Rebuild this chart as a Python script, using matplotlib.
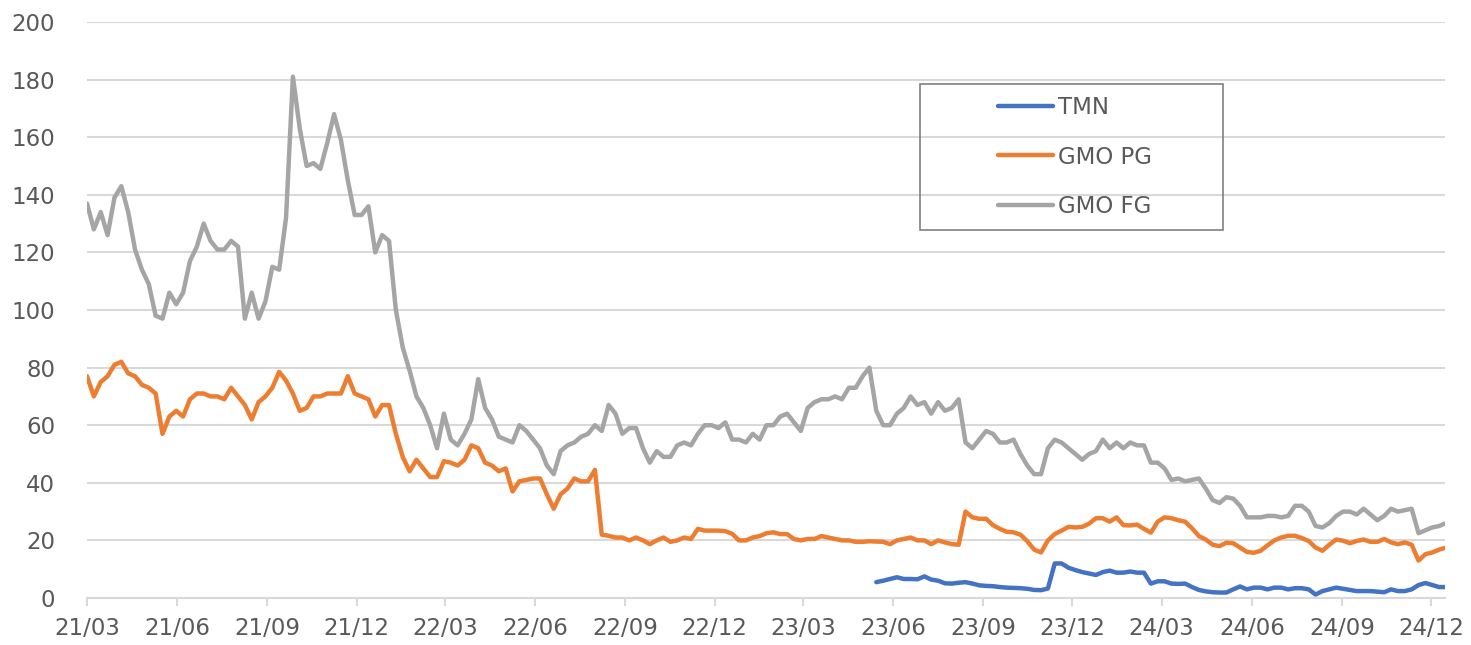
import pandas as pd
import matplotlib.pyplot as plt
import matplotlib.dates as mdates
from matplotlib.patches import Rectangle

# weekly readings, first point 2021-03-01
gmo_fg = [
    137, 128, 134, 126, 139, 143, 134, 121, 114, 109,
    98, 97, 106, 102, 106, 117, 122, 130, 124, 121,
    121, 124, 122, 97, 106, 97, 103, 115, 114, 132,
    181, 163, 150, 151, 149, 158, 168, 159, 145, 133,
    133, 136, 120, 126, 124, 100, 87, 79, 70, 66,
    60, 52, 64, 55, 53, 57, 62, 76, 66, 62,
    56, 55, 54, 60, 58, 55, 52, 46, 43, 51,
    53, 54, 56, 57, 60, 58, 67, 64, 57, 59,
    59, 52, 47, 51, 49, 49, 53, 54, 53, 57,
    60, 60, 59, 61, 55, 55, 54, 57, 55, 60,
    60, 63, 64, 61, 58, 66, 68, 69, 69, 70,
    69, 73, 73, 77, 80, 65, 60, 60, 64, 66,
    70, 67, 68, 64, 68, 65, 66, 69, 54, 52,
    55, 58, 57, 54, 54, 55, 50, 46, 43, 43,
    52, 55, 54, 52, 50, 48, 50, 51, 55, 52,
    54, 52, 54, 53, 53, 47, 47, 45, 41, 41.5,
    40.5, 41, 41.5, 38, 34, 33, 35, 34.5, 32, 28,
    28, 28, 28.5, 28.5, 28, 28.5, 32, 32, 30, 25,
    24.5, 26, 28.5, 30, 30, 29, 31, 29, 27, 28.5,
    31, 30, 30.5, 31, 22.5, 23.5, 24.5, 25, 26,
]

gmo_pg = [
    77, 70, 75, 77, 81, 82, 78, 77, 74, 73,
    71, 57, 63, 65, 63, 69, 71, 71, 70, 70,
    69, 73, 70, 67, 62, 68, 70, 73, 78.5, 75.5,
    71, 65, 66, 70, 70, 71, 71, 71, 77, 71,
    70, 69, 63, 67, 67, 57, 49, 44, 48, 45,
    42, 42, 47.5, 47, 46, 48, 53, 52, 47, 46,
    44, 45, 37, 40.5, 41, 41.5, 41.5, 36, 31, 36,
    38, 41.5, 40.5, 40.5, 44.5, 22, 21.6, 21, 21, 20,
    21, 20, 18.7, 20, 21, 19.5, 20, 21, 20.5, 24,
    23.4, 23.4, 23.4, 23.2, 22.3, 20, 20, 21, 21.5, 22.5,
    22.8, 22.2, 22.2, 20.5, 20, 20.5, 20.5, 21.5, 21, 20.5,
    20, 20, 19.5, 19.5, 19.7, 19.6, 19.5, 18.7, 20, 20.5,
    21, 20, 20, 18.7, 20, 19.3, 18.7, 18.5, 30, 28,
    27.5, 27.5, 25.3, 24, 23, 22.8, 22, 19.7, 16.8, 15.8,
    20, 22.2, 23.4, 24.7, 24.5, 24.7, 25.8, 27.7, 27.7, 26.5,
    28, 25.3, 25.2, 25.5, 24, 22.7, 26.5, 28, 27.7, 27,
    26.5, 24.2, 21.5, 20.3, 18.5, 18, 19.2, 19, 17.5, 16,
    15.7, 16.4, 18.3, 20, 21, 21.6, 21.6, 20.8, 19.8, 17.5,
    16.4, 18.5, 20.3, 19.9, 19, 19.8, 20.3, 19.5, 19.5, 20.5,
    19.3, 18.7, 19.3, 18.5, 13, 15.2, 15.8, 16.8, 17.5,
]

# TMN starts later (last weeks of the same weekly grid)
tmn = [
    5.5, 6, 6.6, 7.2, 6.6, 6.6, 6.5, 7.5, 6.4, 6,
    5.1, 5, 5.3, 5.5, 5, 4.4, 4.2, 4.1, 3.8, 3.6,
    3.5, 3.4, 3.2, 2.8, 2.7, 3.3, 12, 12, 10.5, 9.7,
    9, 8.5, 8, 9, 9.5, 8.8, 8.8, 9.2, 8.8, 8.8,
    5, 5.8, 5.8, 5, 4.9, 5, 3.8, 2.8, 2.3, 2,
    1.9, 1.9, 3, 4, 3, 3.6, 3.6, 3, 3.6, 3.6,
    3, 3.4, 3.4, 3, 1.2, 2.4, 3, 3.6, 3.2, 2.8,
    2.4, 2.4, 2.4, 2.2, 2, 3, 2.4, 2.4, 3, 4.5,
    5.2, 4.5, 3.8, 3.8,
]

dates = pd.date_range('2021-03-01', periods=len(gmo_fg), freq='7D')
tmn_dates = dates[-len(tmn):]

text_col = '#595959'
grid_col = '#d9d9d9'

fig = plt.figure(figsize=(14.71, 6.45), dpi=100)
ax = fig.add_axes([87 / 1471, 1 - 598 / 645, 1358 / 1471, 576 / 645])

line_kw = dict(linewidth=3.2, solid_capstyle='round', solid_joinstyle='round')
ax.plot(tmn_dates, tmn, color='#4472C4', label='TMN', **line_kw)
ax.plot(dates, gmo_pg, color='#ED7D31', label='GMO PG', **line_kw)
ax.plot(dates, gmo_fg, color='#A5A5A5', label='GMO FG', **line_kw)

ax.set_ylim(0, 200)
ax.set_yticks(range(0, 201, 20))
ax.set_xlim(pd.Timestamp('2021-03-01'), pd.Timestamp('2024-12-15'))
ax.xaxis.set_major_locator(mdates.MonthLocator(bymonth=[3, 6, 9, 12], bymonthday=1))
ax.xaxis.set_major_formatter(mdates.DateFormatter('%y/%m'))

ax.grid(axis='y', color=grid_col, linewidth=1.5)
ax.set_axisbelow(True)
for side in ['left', 'right', 'top']:
    ax.spines[side].set_visible(False)
ax.spines['bottom'].set_color(grid_col)
ax.spines['bottom'].set_linewidth(1.5)

ax.tick_params(axis='y', length=0, pad=23, labelsize=16.5, labelcolor=text_col)
ax.tick_params(axis='x', length=6, width=1.5, color=grid_col, pad=8,
               labelsize=16.5, labelcolor=text_col)

# legend box
ax.add_patch(Rectangle(((920 - 87) / 1358, (598 - 230) / 576), 303 / 1358, 146 / 576,
                       transform=ax.transAxes, fill=False, edgecolor='#808080',
                       linewidth=1.2, zorder=5))
leg = ax.legend(loc='center left', bbox_to_anchor=((998 - 87) / 1358, (598 - 157) / 576),
                frameon=False, borderpad=0, borderaxespad=0, handlelength=2.4,
                handletextpad=0.2, labelspacing=1.15, fontsize=16.5)
for t in leg.get_texts():
    t.set_color(text_col)

plt.savefig('out.png', dpi=100)
